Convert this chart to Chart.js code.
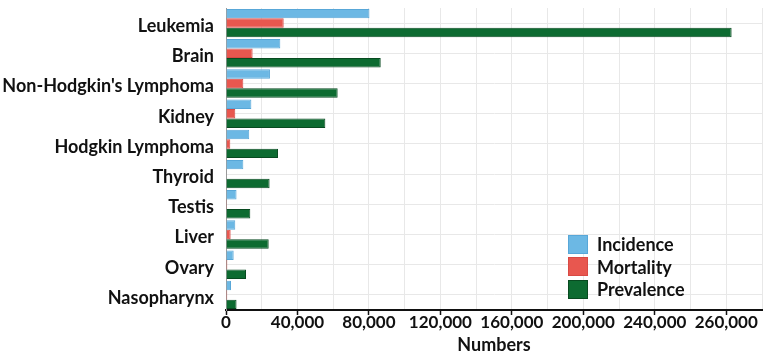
<!DOCTYPE html>
<html>
<head>
<meta charset="utf-8">
<script src="https://cdn.jsdelivr.net/npm/chart.js@4"></script>
<style>
  html, body { margin: 0; padding: 0; background: #fff; }
  #wrap { position: relative; width: 765px; height: 356px; }
  #legend { position: absolute; left: 568px; top: 233px; font: bold 18px Lato, sans-serif; color: #111; }
  #legend .row { display: flex; align-items: center; height: 22.5px; }
  #legend .box { width: 20px; height: 19px; margin-right: 9px; box-sizing: border-box; border: 1px solid; }
</style>
</head>
<body>
<div id="wrap">
  <canvas id="chart" width="765" height="356"></canvas>
  <div id="legend"></div>
</div>
<script>
// 数据
const categories = ['Leukemia', 'Brain', "Non-Hodgkin's Lymphoma", 'Kidney', 'Hodgkin Lymphoma',
  'Thyroid', 'Testis', 'Liver', 'Ovary', 'Nasopharynx'];
const incidence = [80300, 30400, 24600, 14200, 13000, 9700, 5900, 5200, 4300, 2800];
const mortality = [32300, 14900, 9700, 5200, 2400, 300, 500, 2600, 750, 700];
const prevalence = [283000, 86600, 62500, 55600, 29100, 24400, 13600, 23900, 11200, 5900];
const xTickLabels = ['0', '40,000', '80,000', '120,000', '160,000', '200,000', '240,000', '260,000'];

const FONT = 'Lato, sans-serif';

const datasets = [
  { label: 'Incidence', data: incidence, backgroundColor: '#6cb8e4', borderColor: '#58a7d8' },
  { label: 'Mortality', data: mortality, backgroundColor: '#e8574f', borderColor: '#d84a44' },
  { label: 'Prevalence', data: prevalence, backgroundColor: '#0d6b31', borderColor: '#084a20' }
].map(d => Object.assign(d, {
  borderWidth: 1,
  barPercentage: 1,
  categoryPercentage: 0.94
}));

const ctx = document.getElementById('chart').getContext('2d');
const chart = new Chart(ctx, {
  type: 'bar',
  data: { labels: categories, datasets: datasets },
  options: {
    indexAxis: 'y',
    responsive: false,
    animation: false,
    layout: { padding: { top: 8, right: 3, left: 0, bottom: 0 } },
    plugins: {
      legend: { display: false },
      tooltip: { enabled: false }
    },
    scales: {
      x: {
        min: 0,
        max: 300000,
        afterFit: (s) => { s.height = 46; s.paddingLeft = 0; s.paddingRight = 0; },
        ticks: {
          stepSize: 20000,
          autoSkip: false,
          maxRotation: 0,
          padding: -3,
          color: '#111',
          font: { family: FONT, size: 17, weight: 'bold' },
          callback: (v) => (v % 40000 === 0 ? xTickLabels[v / 40000] : '')
        },
        grid: {
          color: '#e8e8e8',
          tickColor: (c) => (c.tick && c.tick.value % 40000 === 0 ? '#111' : 'rgba(0,0,0,0)'),
          tickLength: 5,
          tickWidth: 1.5
        },
        border: { color: '#111', width: 2 },
        title: {
          display: true,
          text: 'Numbers',
          color: '#111',
          padding: { top: 0, bottom: 0 },
          font: { family: FONT, size: 18, weight: 'bold' }
        }
      },
      y: {
        afterFit: (s) => { s.width = 226; s.paddingTop = 0; s.paddingBottom = 0; },
        ticks: {
          padding: 12,
          labelOffset: 3,
          color: '#111',
          font: { family: FONT, size: 18, weight: 'bold' }
        },
        grid: { offset: false, color: '#e8e8e8', drawTicks: false },
        border: { color: '#9a9a9a', width: 1 }
      }
    }
  }
});

// 图例
const legend = document.getElementById('legend');
datasets.forEach(d => {
  const row = document.createElement('div');
  row.className = 'row';
  const box = document.createElement('span');
  box.className = 'box';
  box.style.background = d.backgroundColor;
  box.style.borderColor = d.borderColor;
  const txt = document.createElement('span');
  txt.textContent = d.label;
  row.appendChild(box);
  row.appendChild(txt);
  legend.appendChild(row);
});
</script>
</body>
</html>
